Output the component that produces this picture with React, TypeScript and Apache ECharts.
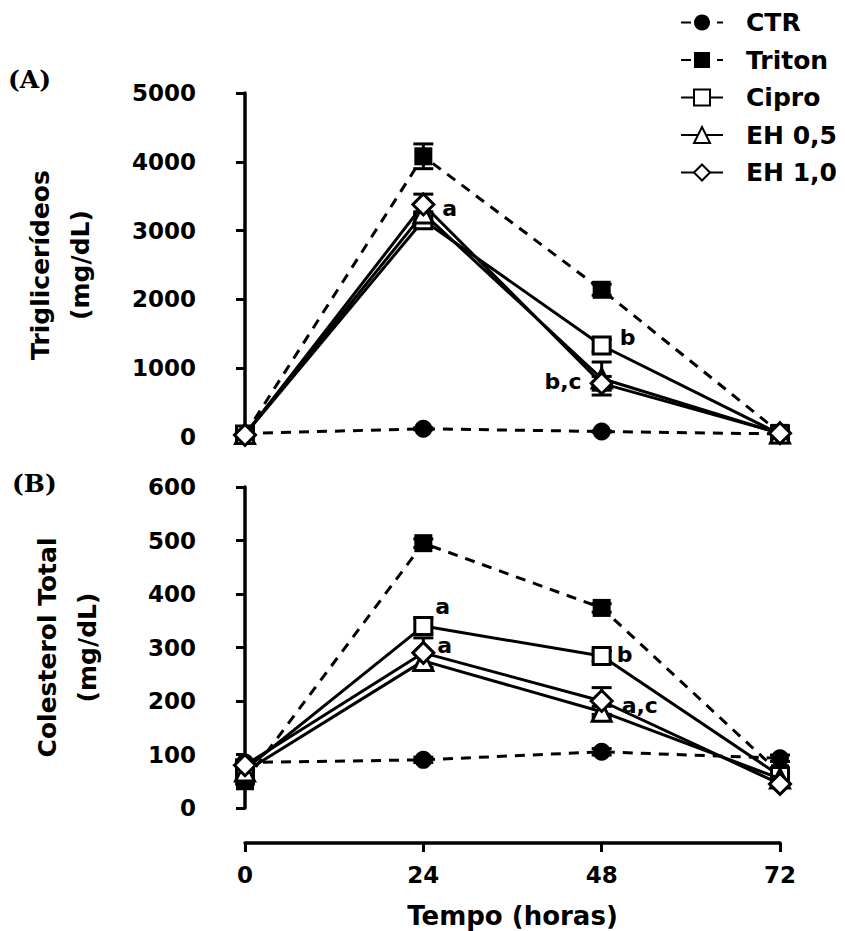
import React, { useEffect, useRef } from "react";
import * as echarts from "echarts";

const hours = [0, 24, 48, 72];
const seriesNames = ["CTR", "Triton", "Cipro", "EH 0,5", "EH 1,0"];

// Panel A: Triglicerídeos (mg/dL)
const trigCTR = [50, 120, 80, 45];
const trigTriton = [40, 4080, 2140, 60];
const trigCipro = [35, 3150, 1330, 40];
const trigEH05 = [45, 3250, 850, 50];
const trigEH10 = [30, 3380, 780, 55];
const trigErrCTR = [10, 15, 10, 10];
const trigErrTriton = [20, 180, 80, 20];
const trigErrCipro = [10, 100, 90, 10];
const trigErrEH05 = [10, 120, 240, 10];
const trigErrEH10 = [10, 150, 100, 10];

// Panel B: Colesterol Total (mg/dL)
const cholCTR = [85, 90, 105, 93];
const cholTriton = [50, 495, 374, 65];
const cholCipro = [72, 340, 284, 60];
const cholEH05 = [68, 275, 180, 55];
const cholEH10 = [80, 290, 200, 45];
const cholErrCTR = [5, 5, 6, 6];
const cholErrTriton = [5, 8, 8, 6];
const cholErrCipro = [6, 15, 10, 6];
const cholErrEH05 = [6, 12, 10, 5];
const cholErrEH10 = [8, 28, 25, 5];

const trigTicks = [0, 1000, 2000, 3000, 4000, 5000];
const cholTicks = [0, 100, 200, 300, 400, 500, 600];

// annotations: [panel, seriesIndex, hourIndex, text, position, offsetX, offsetY]
const annotations: [number, number, number, string, string, number, number][] = [
  [0, 3, 1, "a", "right", 0, -5],
  [0, 2, 2, "b", "right", 0, -8],
  [0, 4, 2, "b,c", "left", 0, -2],
  [1, 2, 1, "a", "right", -6, -20],
  [1, 4, 1, "a", "right", -6, -7],
  [1, 2, 2, "b", "right", -3, -2],
  [1, 4, 2, "a,c", "right", 0, 4],
];

const FONT = "'DejaVu Sans', 'Liberation Sans', sans-serif";

const seriesStyles = [
  { symbol: "circle", size: 18, fill: "#000", dashed: true },
  { symbol: "rect", size: 18, fill: "#000", dashed: true },
  { symbol: "rect", size: 17, fill: "#fff", dashed: false },
  { symbol: "triangle", size: 19, fill: "#fff", dashed: false },
  { symbol: "diamond", size: 21, fill: "#fff", dashed: false },
];

export default function App() {
  const ref = useRef<HTMLDivElement>(null);
  useEffect(() => {
    document.body.style.margin = "0";
    const chart = echarts.init(ref.current!, null, { renderer: "svg" });
    const panels = [
      { values: [trigCTR, trigTriton, trigCipro, trigEH05, trigEH10], errs: [trigErrCTR, trigErrTriton, trigErrCipro, trigErrEH05, trigErrEH10] },
      { values: [cholCTR, cholTriton, cholCipro, cholEH05, cholEH10], errs: [cholErrCTR, cholErrTriton, cholErrCipro, cholErrEH05, cholErrEH10] },
    ];
    const series: any[] = [];
    panels.forEach((p, pi) => {
      p.values.forEach((vals, si) => {
        const st = seriesStyles[si];
        const errs = p.errs[si];
        series.push({
          type: "custom",
          xAxisIndex: pi,
          yAxisIndex: pi,
          z: 1,
          silent: true,
          data: vals.map((v, i) => [hours[i], v - errs[i], v + errs[i]]),
          renderItem: (params: any, api: any) => {
            const x = api.value(0);
            const pHi = api.coord([x, api.value(2)]);
            const pLo = api.coord([x, api.value(1)]);
            const w = 10;
            const s = { stroke: "#000", lineWidth: 3 };
            return {
              type: "group",
              children: [
                { type: "line", shape: { x1: pHi[0], y1: pHi[1], x2: pLo[0], y2: pLo[1] }, style: s },
                { type: "line", shape: { x1: pHi[0] - w, y1: pHi[1], x2: pHi[0] + w, y2: pHi[1] }, style: s },
                { type: "line", shape: { x1: pLo[0] - w, y1: pLo[1], x2: pLo[0] + w, y2: pLo[1] }, style: s },
              ],
            };
          },
        });
        series.push({
          type: "line",
          name: seriesNames[si],
          xAxisIndex: pi,
          yAxisIndex: pi,
          z: 2 + si,
          clip: false,
          symbol: st.symbol,
          symbolSize: st.size,
          showAllSymbol: true,
          lineStyle: { color: "#000", width: 3, type: st.dashed ? [10, 8] : "solid" },
          itemStyle: { color: st.fill, borderColor: "#000", borderWidth: st.fill === "#fff" ? 3 : 0 },
          emphasis: { disabled: true },
          data: vals.map((v, i) => {
            const ann = annotations.find((a) => a[0] === pi && a[1] === si && a[2] === i);
            const item: any = { value: [hours[i], v] };
            if (ann) {
              item.label = {
                show: true,
                formatter: ann[3],
                position: ann[4],
                offset: [ann[5], ann[6]],
                distance: 8,
                color: "#000",
                fontFamily: FONT,
                fontWeight: "bold",
                fontSize: 22,
              };
            }
            return item;
          }),
        });
      });
    });

    const yAxisCommon = (gi: number, ticks: number[], name: string, nameGap: number) => ({
      type: "value",
      gridIndex: gi,
      min: ticks[0],
      max: ticks[ticks.length - 1],
      interval: ticks[1] - ticks[0],
      offset: 38,
      name,
      nameLocation: "middle",
      nameGap,
      nameTextStyle: { color: "#000", fontFamily: FONT, fontWeight: "bold", fontSize: 25, lineHeight: 40 },
      axisLine: { show: true, lineStyle: { color: "#000", width: 3.5 } },
      axisTick: { show: true, length: 9, lineStyle: { color: "#000", width: 3 } },
      axisLabel: { color: "#000", fontFamily: FONT, fontWeight: "bold", fontSize: 23, margin: 11, formatter: (v: number) => String(v) },
      splitLine: { show: false },
    });

    chart.setOption({
      animation: false,
      backgroundColor: "#fff",
      legend: {
        data: seriesNames,
        orient: "vertical",
        left: 675,
        top: 5,
        itemWidth: 42,
        itemHeight: 20,
        itemGap: 12.5,
        selectedMode: false,
        textStyle: { color: "#000", fontFamily: FONT, fontWeight: "bold", fontSize: 25, lineHeight: 22, padding: [0, 0, 0, 18] },
      },
      grid: [
        { left: 245, right: 65, top: 93, height: 344 },
        { left: 245, right: 65, top: 487, height: 321 },
        { left: 245, right: 65, top: 842, height: 1 },
      ],
      xAxis: [
        { type: "value", gridIndex: 0, min: 0, max: 72, show: false },
        { type: "value", gridIndex: 1, min: 0, max: 72, show: false },
        {
          type: "value",
          gridIndex: 2,
          min: 0,
          max: 72,
          interval: 24,
          position: "bottom",
          name: "Tempo (horas)",
          nameLocation: "middle",
          nameGap: 60,
          nameTextStyle: { color: "#000", fontFamily: FONT, fontWeight: "bold", fontSize: 26 },
          axisLine: { show: true, lineStyle: { color: "#000", width: 3.5 } },
          axisTick: { show: true, length: 9, lineStyle: { color: "#000", width: 3 } },
          axisLabel: { color: "#000", fontFamily: FONT, fontWeight: "bold", fontSize: 23, margin: 20 },
          splitLine: { show: false },
        },
      ],
      yAxis: [
        yAxisCommon(0, trigTicks, "Triglicerídeos\n(mg/dL)", 107),
        yAxisCommon(1, cholTicks, "Colesterol Total\n(mg/dL)", 100),
        { type: "value", gridIndex: 2, min: 0, max: 1, show: false },
      ],
      graphic: [
        { type: "text", left: 8, top: 67, style: { text: "(A)", fill: "#000", font: "bold 25px 'DejaVu Serif', serif" } },
        { type: "text", left: 12, top: 471, style: { text: "(B)", fill: "#000", font: "bold 25px 'DejaVu Serif', serif" } },
      ],
      series,
    });
    return () => chart.dispose();
  }, []);
  return <div ref={ref} style={{ width: 845, height: 931 }} />;
}
